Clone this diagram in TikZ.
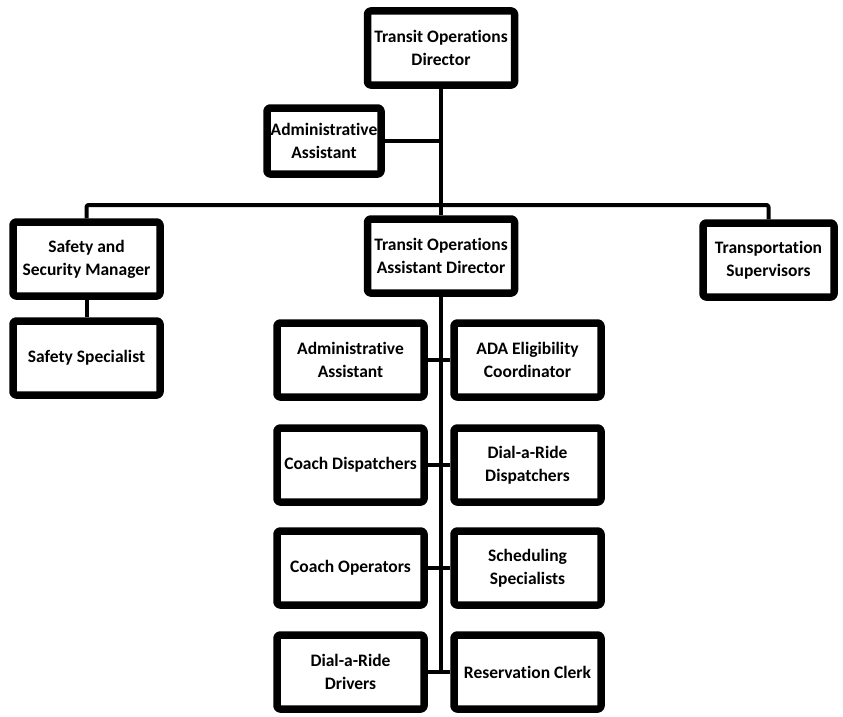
\documentclass[tikz,border=0pt]{standalone}
\usepackage{fontspec}
\setmainfont{Carlito}[Ligatures=NoCommon]
\usetikzlibrary{positioning}
\tikzset{
  orgbox/.style={draw, line width=7.5pt, rounded corners=3pt, fill=white, align=center,
    minimum width=147pt, minimum height=74pt, inner sep=1pt,
    font=\bfseries\fontsize{17.5}{23}\selectfont},
  link/.style={line width=4pt, rounded corners=2pt}
}
\begin{document}
\begin{tikzpicture}[x=1pt,y=-1pt,line join=round]
	%==khung
	\useasboundingbox (0,0) rectangle (843,717);
	\def\xl{350.5}
	\def\xr{527.5}
	%==============
	\node[orgbox] (dir) at (441,48) {Transit Operations\\Director};
	\node[orgbox, minimum width=114pt, minimum height=66pt] (adm) at (324,141) {Administrative\\Assistant};
	\node[orgbox] (ssm) at (86.5,259) {Safety and\\Security Manager};
	\node[orgbox] (tad) at (441,256) {Transit Operations\\Assistant Director};
	\node[orgbox, minimum width=131pt] (tsup) at (768.5,260) {Transportation\\Supervisors};
	\node[orgbox] (ssp) at (86.5,358) {Safety Specialist};
	\coordinate (bus) at (441,205);
	%==hai cot duoi
	\node[orgbox] (aa) at (\xl,360) {Administrative\\Assistant};
	\node[orgbox] (ada) at (\xr,360) {ADA Eligibility\\Coordinator};
	\node[orgbox] (cd) at (\xl,465) {Coach Dispatchers};
	\node[orgbox] (drd) at (\xr,465) {Dial-a-Ride\\Dispatchers};
	\node[orgbox] (co) at (\xl,568) {Coach Operators};
	\node[orgbox] (ss) at (\xr,568) {Scheduling\\Specialists};
	\node[orgbox] (drv) at (\xl,672) {Dial-a-Ride\\Drivers};
	\node[orgbox] (rc) at (\xr,672) {Reservation Clerk};
	%==duong noi
	\draw[link] (dir.south) -- (tad.north);
	\draw[link] (adm.east) -- (adm.east -| dir.south);
	\draw[link] (ssm.north) |- (bus) -| (tsup.north);
	\draw[link] (ssm.south) -- (ssp.north);
	\draw[link] (tad.south) -- (tad.south |- drv.center);
	\foreach \a/\b in {aa/ada,cd/drd,co/ss,drv/rc}{\draw[link] (\a.east) -- (\b.west);}
\end{tikzpicture}
\end{document}
